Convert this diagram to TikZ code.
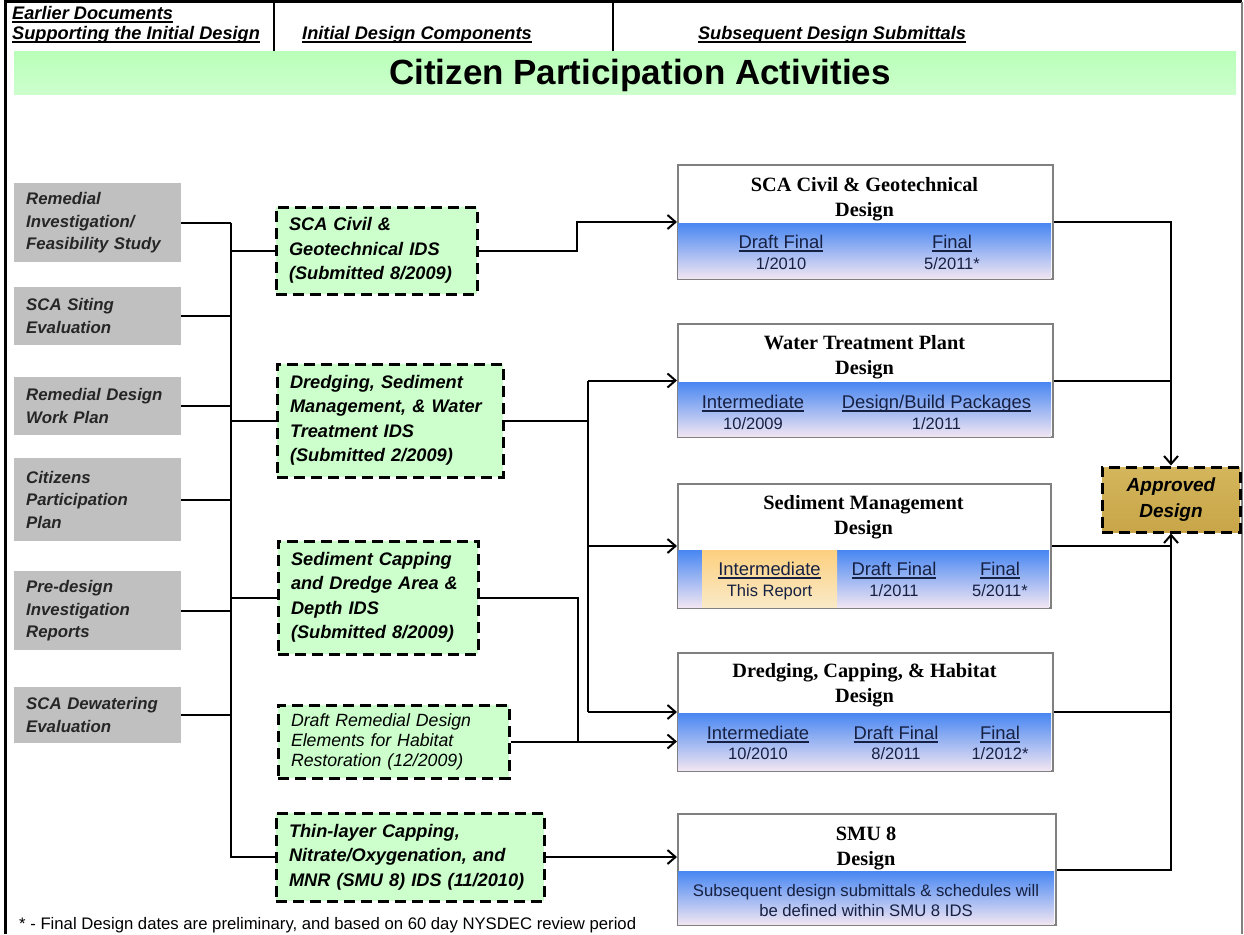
\documentclass[tikz,border=0pt]{standalone}
\usepackage{fontspec}
\setmainfont{Liberation Sans}
\newfontfamily\tnr{Liberation Serif}
\usetikzlibrary{arrows.meta}
\definecolor{boxgray}{RGB}{192,192,192}
\definecolor{gfill}{RGB}{204,255,204}
\definecolor{bandtop}{RGB}{74,136,242}
\definecolor{bandmid}{RGB}{150,185,242}
\definecolor{bandbot}{RGB}{242,230,242}
\definecolor{orgtop}{RGB}{252,208,128}
\definecolor{orgbot}{RGB}{250,234,200}
\definecolor{goldtop}{RGB}{212,182,92}
\definecolor{goldmid}{RGB}{250,240,180}
\definecolor{goldbot}{RGB}{200,165,72}
\definecolor{bantop}{RGB}{185,255,185}
\definecolor{banmid}{RGB}{140,245,140}
\definecolor{banbot}{RGB}{205,255,205}
\definecolor{navy}{RGB}{22,32,66}
\definecolor{dborder}{RGB}{128,128,128}
\newcommand\myul[1]{\setbox0\hbox{#1}\rlap{\rule[-0.17em]{\wd0}{0.075em}}\box0}
\begin{document}
\begin{tikzpicture}[x=1pt,y=-1pt,
  conn/.style={line width=2pt,black},
  arr/.style={conn,-{Straight Barb[length=8pt,width=14pt]}},
  hdr/.style={font=\fontsize{18.2}{20}\selectfont\bfseries\itshape,inner sep=0pt},
  lbox/.style={fill=boxgray,draw=none,anchor=north west,text width=143pt,inner xsep=12pt,inner ysep=0pt,align=left,
    font=\fontsize{16.8}{22.5}\selectfont\bfseries\itshape,text=black!85,minimum width=167pt},
  gbox/.style={draw=black,line width=3pt,dash pattern=on 11pt off 6pt,fill=gfill,align=left,inner xsep=13pt,inner ysep=0pt,
    font=\fontsize{18.2}{24.5}\selectfont\bfseries\itshape},
  g4font/.style={font=\fontsize{17.7}{20}\selectfont\itshape},
  dbox/.style={draw=dborder,line width=2pt,fill=white,anchor=north west,inner sep=0pt},
  dband/.style={top color=bandtop,middle color=bandmid,bottom color=bandbot,draw=none,anchor=south west,inner sep=0pt},
  dtitle/.style={font=\tnr\bfseries\fontsize{20.3}{25}\selectfont,align=center,inner sep=0pt},
  dlab/.style={font=\fontsize{18.4}{21}\selectfont,text=navy,anchor=base,inner sep=0pt},
  ddate/.style={font=\fontsize{16.5}{20}\selectfont,text=navy,anchor=base,inner sep=0pt},
  abox/.style={draw=black,line width=3pt,dash pattern=on 11pt off 6pt,top color=goldtop,middle color=goldmid,bottom color=goldbot,
    align=center,inner sep=0pt,font=\fontsize{19}{26}\selectfont\bfseries\itshape}
]
\useasboundingbox (0,0) rectangle (1244,934);
% frame and header
\draw[line width=3pt] (5,934) -- (5,2) -- (1242,2);
\draw[line width=1.5pt,dborder] (1242,2) -- (1242,934);
\draw[line width=2pt] (274,2) -- (274,52);
\draw[line width=2pt] (613,2) -- (613,52);
\node[hdr,anchor=west,align=left] (H1) at (12,25) {\myul{Earlier Documents}\\\myul{Supporting the Initial Design}};
\node[hdr] (H2) at (417,35) {\myul{Initial Design Components}};
\node[hdr] (H3) at (832,35) {\myul{Subsequent Design Submittals}};
\node[top color=bantop,middle color=banmid,bottom color=banbot,draw=none,minimum width=1222pt,minimum height=42pt,inner sep=0pt] (BN) at (625,73) {};
\node[font=\fontsize{35}{40}\selectfont\bfseries,inner sep=0pt] (TT) at (640,75) {Citizen Participation Activities};
% left boxes
\node[lbox,minimum height=79pt] (B1) at (14,183) {Remedial\\Investigation/\\Feasibility Study};
\node[lbox,minimum height=58pt] (B2) at (14,287) {SCA Siting\\Evaluation};
\node[lbox,minimum height=58pt] (B3) at (14,377) {Remedial Design\\Work Plan};
\node[lbox,minimum height=83pt] (B4) at (14,458) {Citizens\\Participation\\Plan};
\node[lbox,minimum height=79pt] (B5) at (14,571) {Pre-design\\Investigation\\Reports};
\node[lbox,minimum height=56pt] (B6) at (14,687) {SCA Dewatering\\Evaluation};
% green boxes
\node[gbox,text width=175pt,minimum height=87pt] (G1) at (376.5,250.5) {SCA Civil \&\\Geotechnical IDS\\(Submitted 8/2009)};
\node[gbox,text width=200pt,minimum height=113pt] (G2) at (390,420.5) {Dredging, Sediment\\Management, \& Water\\Treatment IDS\\(Submitted 2/2009)};
\node[gbox,text width=174pt,minimum height=113pt] (G3) at (378,597.5) {Sediment Capping\\and Dredge Area \&\\Depth IDS\\(Submitted 8/2009)};
\node[gbox,g4font,text width=205pt,minimum height=73pt] (G4) at (393.5,741.5) {Draft Remedial Design\\Elements for Habitat\\Restoration (12/2009)};
\node[gbox,text width=242pt,minimum height=88pt] (G5) at (410,857) {Thin-layer Capping,\\Nitrate/Oxygenation, and\\MNR (SMU 8) IDS (11/2010)};
% design boxes
\node[dbox,minimum width=375pt,minimum height=114pt] (D1) at (677,164) {};
\node[dband,minimum width=373pt,minimum height=55pt] (D1b) at ([shift={(1,-1)}]D1.south west) {};
\node[dbox,minimum width=375pt,minimum height=113pt] (D2) at (677,323) {};
\node[dband,minimum width=373pt,minimum height=54pt] (D2b) at ([shift={(1,-1)}]D2.south west) {};
\node[dbox,minimum width=373pt,minimum height=124pt] (D3) at (677,483) {};
\node[dband,minimum width=371pt,minimum height=57pt] (D3b) at ([shift={(1,-1)}]D3.south west) {};
\node[top color=orgtop,bottom color=orgbot,draw=none,anchor=south west,inner sep=0pt,minimum width=135pt,minimum height=57pt] (D3o) at ([shift={(25,-1)}]D3.south west) {};
\node[dbox,minimum width=375pt,minimum height=118pt] (D4) at (677,652) {};
\node[dband,minimum width=373pt,minimum height=57pt] (D4b) at ([shift={(1,-1)}]D4.south west) {};
\node[dbox,minimum width=378pt,minimum height=111pt] (D5) at (677,813) {};
\node[dband,minimum width=376pt,minimum height=53pt] (D5b) at ([shift={(1,-1)}]D5.south west) {};
% design titles
\node[dtitle] (D1t) at (864.5,199) {SCA Civil \& Geotechnical\\Design};
\node[dtitle] (D2t) at (864.5,357.5) {Water Treatment Plant\\Design};
\node[dtitle] (D3t) at (863.5,517) {Sediment Management\\Design};
\node[dtitle] (D4t) at (864.5,685.5) {Dredging, Capping, \& Habitat\\Design};
\node[dtitle] (D5t) at (866,848) {SMU 8\\Design};
% band labels
\node[dlab] (D1l1) at (781,248.6) {\myul{Draft Final}};
\node[ddate] (D1d1) at (781,269) {1/2010};
\node[dlab] (D1l2) at (952,248.6) {\myul{Final}};
\node[ddate] (D1d2) at (952,269) {5/2011*};
\node[dlab] (D2l1) at (753,408.6) {\myul{Intermediate}};
\node[ddate] (D2d1) at (753,429) {10/2009};
\node[dlab] (D2l2) at (936.5,408.6) {\myul{Design/Build Packages}};
\node[ddate] (D2d2) at (936.5,429) {1/2011};
\node[dlab] (D3l1) at (769.5,575.6) {\myul{Intermediate}};
\node[ddate] (D3d1) at (769.5,596) {This Report};
\node[dlab] (D3l2) at (894,575.6) {\myul{Draft Final}};
\node[ddate] (D3d2) at (894,596) {1/2011};
\node[dlab] (D3l3) at (1000,575.6) {\myul{Final}};
\node[ddate] (D3d3) at (1000,596) {5/2011*};
\node[dlab] (D4l1) at (758,739.6) {\myul{Intermediate}};
\node[ddate] (D4d1) at (758,759) {10/2010};
\node[dlab] (D4l2) at (896,739.6) {\myul{Draft Final}};
\node[ddate] (D4d2) at (896,759) {8/2011};
\node[dlab] (D4l3) at (1000,739.6) {\myul{Final}};
\node[ddate] (D4d3) at (1000,759) {1/2012*};
\node[font=\fontsize{16.7}{20}\selectfont,text=navy,align=center,inner sep=0pt] (D5s) at (866,901) {Subsequent design submittals \& schedules will\\be defined within SMU 8 IDS};
% approved
\node[abox,minimum width=138pt,minimum height=65pt] (AD) at (1171,499.5) {Approved\\Design};
% footnote
\node[anchor=base west,inner sep=0pt,font=\fontsize{16.7}{20}\selectfont] (FN) at (19,929) {* - Final Design dates are preliminary, and based on 60 day NYSDEC review period};
% connectors: left trunk
\coordinate (tr) at (231,0);
\draw[line width=2.5pt] (B1.east -| tr) -- (G5.west -| tr) -- (G5.west);
\foreach \b in {B1,B2,B3,B4,B5,B6} \draw[conn] (\b.east) -- (\b.east -| tr);
\foreach \g in {G1,G2,G3} \draw[conn] (\g.west -| tr) -- (\g.west);
% middle connectors
\coordinate (j1) at (577,0);
\coordinate (j2) at (588,0);
\coordinate (j3) at (578,0);
\draw[arr] (G1.east) -- (G1.east -| j1) |- (D1.west);
\draw[conn] (G2.east) -- (G2.east -| j2);
\draw[conn] (j2 |- D2.west) -- (j2 |- D4.west);
\draw[arr] (j2 |- D2.west) -- (D2.west);
\draw[arr] (j2 |- D3.west) -- (D3.west);
\draw[arr] (j2 |- D4.west) -- (D4.west);
\draw[conn] (G3.east) -| (j3 |- G4.east);
\draw[arr] (G4.east) -- (G4.east -| D4.west);
\draw[arr] (G5.east) -- (G5.east -| D5.west);
% right collector
\draw[arr] (D1.east) -| (AD.north);
\draw[conn] (D2.east) -- (D2.east -| AD.north);
\draw[arr] (D5.east) -| (AD.south);
\draw[conn] (D4.east) -- (D4.east -| AD.south);
\draw[conn] (D3.east) -- (D3.east -| AD.south);
\end{tikzpicture}
\end{document}
